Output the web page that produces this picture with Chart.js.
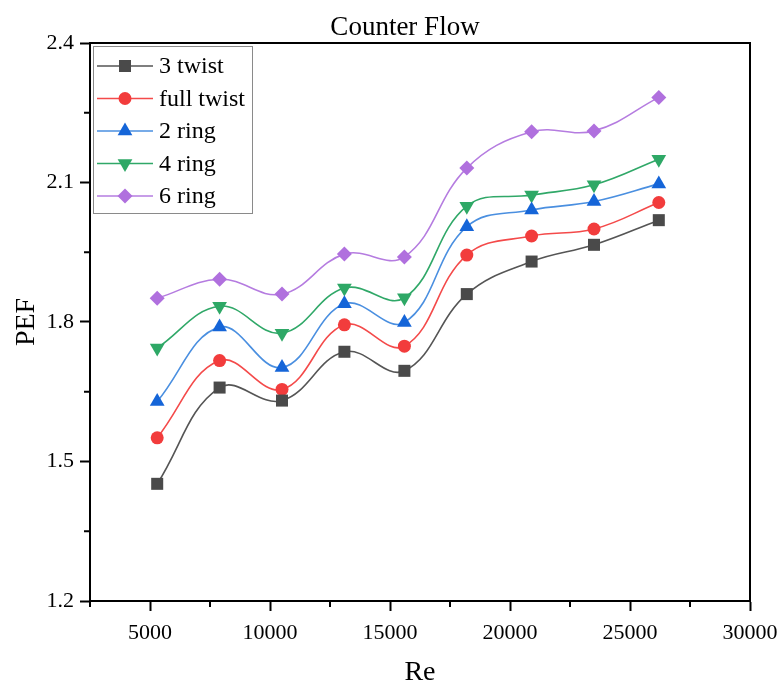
<!DOCTYPE html>
<html>
<head>
<meta charset="utf-8">
<title>Counter Flow</title>
<script src="https://cdn.jsdelivr.net/npm/chart.js@4.4.0/dist/chart.umd.min.js"></script>
<style>
  html, body { margin: 0; padding: 0; background: #ffffff; }
  #wrap { width: 780px; height: 689px; position: relative; }
</style>
</head>
<body>
<div id="wrap"><canvas id="pefChart"></canvas></div>
<script>
// Reynolds numbers of the runs
const reynolds = [5300, 7900, 10500, 13100, 15600, 18200, 20900, 23500, 26200];

// PEF per insert
const pef3Twist    = [1.452, 1.659, 1.631, 1.736, 1.695, 1.860, 1.930, 1.966, 2.019];
const pefFullTwist = [1.551, 1.717, 1.655, 1.794, 1.748, 1.944, 1.985, 2.000, 2.057];
const pef2Ring     = [1.629, 1.789, 1.702, 1.839, 1.799, 2.005, 2.041, 2.059, 2.097];
const pef4Ring     = [1.744, 1.834, 1.776, 1.873, 1.852, 2.049, 2.073, 2.095, 2.150];
const pef6Ring     = [1.851, 1.892, 1.860, 1.946, 1.940, 2.131, 2.209, 2.211, 2.283];

const seriesNames = ['3 twist', 'full twist', '2 ring', '4 ring', '6 ring'];

// axis ticks
const xTicks = [5000, 10000, 15000, 20000, 25000, 30000];
const xMinorTicks = [2500, 7500, 12500, 17500, 22500, 27500];
const yTicks = [1.2, 1.5, 1.8, 2.1, 2.4];
const yMinorTicks = [1.35, 1.65, 1.95, 2.25];

const SERIF = "'Liberation Serif', 'Times New Roman', serif";

const STYLES = [
    { line: '#555555', fill: '#4a4a4a', pointStyle: 'rect',     rotation: 0,   radius: 8.5 },
    { line: '#f44a4a', fill: '#f23c3c', pointStyle: 'circle',   rotation: 0,   radius: 6.5 },
    { line: '#4a8fe0', fill: '#1565d8', pointStyle: 'triangle', rotation: 0,   radius: 8.5 },
    { line: '#30a868', fill: '#2ea866', pointStyle: 'triangle', rotation: 180, radius: 8.5 },
    { line: '#b57ce0', fill: '#b070de', pointStyle: 'rectRot',  rotation: 0,   radius: 7.5 }
];

const allSeries = [pef3Twist, pefFullTwist, pef2Ring, pef4Ring, pef6Ring];

const datasets = allSeries.map((values, i) => ({
    label: seriesNames[i],
    data: values.map((v, k) => ({ x: reynolds[k], y: v })),
    borderColor: STYLES[i].line,
    backgroundColor: STYLES[i].fill,
    pointBackgroundColor: STYLES[i].fill,
    pointBorderWidth: 0,
    pointStyle: STYLES[i].pointStyle,
    rotation: STYLES[i].rotation,
    pointRadius: STYLES[i].radius,
    pointHoverRadius: STYLES[i].radius,
    borderWidth: 1.6,
    tension: 0.4,
    fill: false
}));

// title sits a bit left of the plot centre
const titlePlugin = {
    id: 'plotTitle',
    afterDraw(chart) {
        const { ctx } = chart;
        ctx.save();
        ctx.fillStyle = '#000000';
        ctx.font = '27px ' + SERIF;
        ctx.textAlign = 'center';
        ctx.textBaseline = 'alphabetic';
        ctx.fillText('Counter Flow', 405, 35);
        ctx.restore();
    }
};

// box around the plot + short minor ticks
const framePlugin = {
    id: 'frame',
    afterDraw(chart) {
        const { ctx, chartArea: a, scales } = chart;
        ctx.save();
        ctx.strokeStyle = '#000000';
        ctx.lineWidth = 2;
        ctx.strokeRect(a.left, a.top, a.right - a.left, a.bottom - a.top);
        ctx.beginPath();
        xMinorTicks.forEach(v => {
            const px = scales.x.getPixelForValue(v);
            ctx.moveTo(px, a.bottom);
            ctx.lineTo(px, a.bottom + 6);
        });
        yMinorTicks.forEach(v => {
            const py = scales.y.getPixelForValue(v);
            ctx.moveTo(a.left, py);
            ctx.lineTo(a.left - 6, py);
        });
        ctx.stroke();
        ctx.restore();
    }
};

// legend inside the plot: line with marker, then name
const legendPlugin = {
    id: 'insideLegend',
    afterDraw(chart) {
        const { ctx, chartArea: a } = chart;
        const x0 = a.left + 3, y0 = a.top + 3;
        const w = 159, h = 167, rowH = 32.5;
        ctx.save();
        ctx.fillStyle = '#ffffff';
        ctx.fillRect(x0, y0, w, h);
        ctx.strokeStyle = '#8a8a8a';
        ctx.lineWidth = 1;
        ctx.strokeRect(x0 + 0.5, y0 + 0.5, w, h);
        chart.data.datasets.forEach((ds, i) => {
            const cy = y0 + 20 + i * rowH;
            ctx.strokeStyle = ds.borderColor;
            ctx.lineWidth = 1.6;
            ctx.beginPath();
            ctx.moveTo(x0 + 4, cy);
            ctx.lineTo(x0 + 60, cy);
            ctx.stroke();
            ctx.fillStyle = ds.pointBackgroundColor;
            Chart.helpers.drawPoint(ctx, {
                pointStyle: ds.pointStyle,
                rotation: ds.rotation,
                radius: ds.pointRadius,
                borderWidth: 0
            }, x0 + 32, cy);
            ctx.fillStyle = '#000000';
            ctx.font = '24px ' + SERIF;
            ctx.textBaseline = 'middle';
            ctx.textAlign = 'left';
            ctx.fillText(ds.label, x0 + 66, cy + 1);
        });
        ctx.restore();
    }
};

new Chart(document.getElementById('pefChart'), {
    type: 'line',
    data: { datasets },
    plugins: [framePlugin, legendPlugin, titlePlugin],
    options: {
        responsive: true,
        maintainAspectRatio: false,
        animation: false,
        layout: { padding: { left: 0, right: 30, top: 43, bottom: 0 } },
        plugins: {
            legend: { display: false },
            tooltip: { enabled: false },
            title: { display: false }
        },
        scales: {
            x: {
                type: 'linear',
                min: 2500,
                max: 30000,
                afterBuildTicks: s => { s.ticks = xTicks.map(v => ({ value: v })); },
                afterFit: s => {
                    s.height = 88;
                    // end labels may hang past the plot edge
                    s.paddingLeft = 0;
                    s.paddingRight = 0;
                },
                grid: { drawOnChartArea: false, drawTicks: true, tickLength: 10, tickWidth: 2, tickColor: '#000000' },
                border: { display: true, color: '#000000', width: 2 },
                ticks: {
                    color: '#000000',
                    padding: 9,
                    maxRotation: 0,
                    font: { family: SERIF, size: 22 },
                    callback: v => String(v)
                },
                title: {
                    display: true,
                    text: 'Re',
                    color: '#000000',
                    font: { family: SERIF, size: 28 },
                    padding: { top: 10, bottom: 0 }
                }
            },
            y: {
                min: 1.2,
                max: 2.4,
                afterBuildTicks: s => { s.ticks = yTicks.map(v => ({ value: v })); },
                afterFit: s => {
                    s.width = 90;
                    s.paddingTop = 0;
                    s.paddingBottom = 0;
                },
                grid: { drawOnChartArea: false, drawTicks: true, tickLength: 10, tickWidth: 2, tickColor: '#000000' },
                border: { display: true, color: '#000000', width: 2 },
                ticks: {
                    color: '#000000',
                    padding: 6,
                    font: { family: SERIF, size: 22 },
                    callback: v => v.toFixed(1)
                },
                title: {
                    display: true,
                    text: 'PEF',
                    color: '#000000',
                    font: { family: SERIF, size: 28 },
                    padding: { top: 10, bottom: 4 }
                }
            }
        }
    }
});
</script>
</body>
</html>
